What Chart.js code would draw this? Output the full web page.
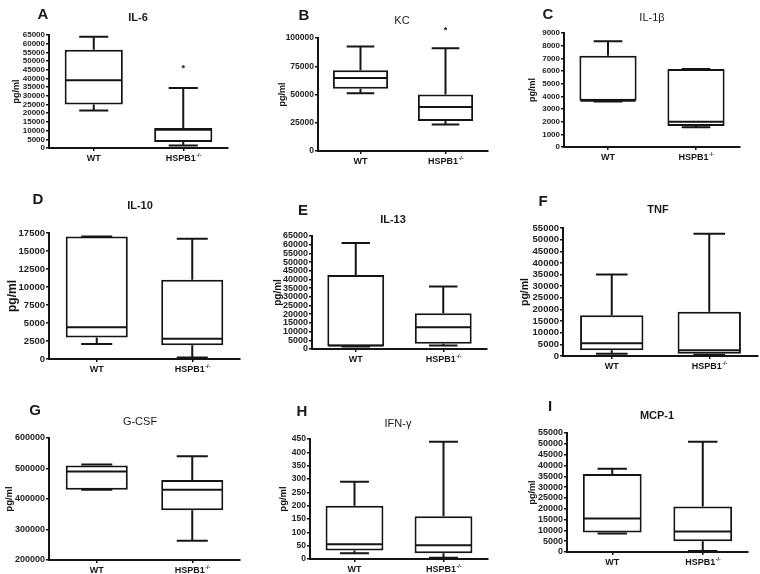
<!DOCTYPE html>
<html lang="en">
<head>
<meta charset="UTF-8">
<title>Cytokines WT vs HSPB1-/-</title>
<script src="https://cdn.jsdelivr.net/npm/chart.js@4.4.0/dist/chart.umd.min.js"></script>
<style>
  body { margin: 0; background: #fff; }
  #page { position: relative; width: 760px; height: 574px; overflow: hidden;
          font-family: "Liberation Sans", Arial, sans-serif; color: #1a1a1a; }
  .panel { position: absolute; }
  .lbl { position: absolute; transform: translate(-50%, -50%); white-space: nowrap; }
  .letter { font-weight: bold; font-size: 15px; }
</style>
</head>
<body>
<div id="page"></div>
<script>
// groups and panels
const groups = ['WT', 'HSPB1'];
const letters = ['A', 'B', 'C', 'D', 'E', 'F', 'G', 'H', 'I'];
const titles = ['IL-6', 'KC', 'IL-1β', 'IL-10', 'IL-13', 'TNF', 'G-CSF', 'IFN-γ', 'MCP-1'];

// y axis ranges
const yMin = [0, 0, 0, 0, 0, 0, 200000, 0, 0];
const yMax = [65000, 100000, 9000, 17500, 65000, 55000, 600000, 450, 55000];
const yStep = [5000, 25000, 1000, 2500, 5000, 5000, 100000, 50, 5000];

// box plot stats, each entry = [WT, HSPB1]
const minVals = [[21500, 1500], [51000, 23500], [3600, 1550], [2100, 200], [1500, 2000], [1000, 500], [430000, 263000], [22, 5], [8500, 500]];
const q1Vals  = [[25000, 3500], [55000, 26500], [3650, 1650], [3000, 1900], [1500, 3000], [2500, 1000], [430000, 363000], [32, 22], [9000, 5000]];
const medVals = [[39000, 10500], [64500, 39000], [3650, 2000], [4400, 2800], [2000, 12500], [5500, 2500], [490000, 430000], [55, 52], [15500, 9500]];
const q3Vals  = [[56500, 11500], [71500, 50000], [7200, 6150], [17000, 11000], [42500, 20500], [17500, 19000], [510000, 462000], [200, 160], [36000, 21000]];
const maxVals = [[64000, 34500], [92500, 91000], [8350, 6150], [17000, 16700], [61000, 36000], [35000, 52500], [513000, 540000], [290, 440], [38500, 51000]];
const starVals = [[null, 47000], [null, 108000], [null, null], [null, null], [null, null], [null, null], [null, null], [null, null], [null, null]];

// page layout: axis left, axis right, top, bottom (page px)
const frames = [
  [49, 228, 35, 148], [318, 488, 38, 151], [564, 740, 33, 147],
  [49, 240, 233, 359], [312, 487, 236, 349], [563, 758, 228, 356],
  [49, 240, 438, 560], [310, 488, 439, 559], [567, 748, 433, 552]
];
const letterPos = [[43, 13], [304, 14], [548, 13], [38, 198], [303, 209], [543, 200], [35, 409], [302, 410], [550, 405]];
const titlePos = [[138, 17], [402, 20], [652, 17], [140, 205], [393, 219], [658, 209], [140, 421], [398, 423], [657, 415]];
const titleBold = [true, false, false, true, true, true, false, false, true];
const tickFont = [8, 8.5, 8, 9.5, 9, 9.5, 9, 8.5, 9];
const unitFont = [9, 9, 9, 12, 10, 10.5, 9.5, 9.5, 9];
const unitOffset = [32, 35, 31, 36, 34, 38, 40, 27, 34];

const FONT = '"Liberation Sans", Arial, sans-serif';
const INK = '#151515';
const page = document.getElementById('page');

function addLabel(text, x, y, css) {
  const d = document.createElement('div');
  d.className = 'lbl';
  d.textContent = text;
  d.style.left = x + 'px';
  d.style.top = y + 'px';
  Object.assign(d.style, css);
  page.appendChild(d);
}

function makeBoxPlugin(k) {
  return {
    id: 'box' + k,
    afterDatasetsDraw(chart) {
      const ctx = chart.ctx;
      const ys = chart.scales.y;
      const area = chart.chartArea;
      const meta = chart.getDatasetMeta(0);
      ctx.save();
      ctx.strokeStyle = INK;
      ctx.fillStyle = INK;
      ctx.lineWidth = 2;
      meta.data.forEach((bar, i) => {
        const half = bar.width / 2;
        const cap = bar.width * 0.25;
        const pLo = ys.getPixelForValue(minVals[k][i]);
        const pQ1 = ys.getPixelForValue(q1Vals[k][i]);
        const pMed = ys.getPixelForValue(medVals[k][i]);
        const pQ3 = ys.getPixelForValue(q3Vals[k][i]);
        const pHi = ys.getPixelForValue(maxVals[k][i]);
        ctx.beginPath();
        ctx.moveTo(bar.x, pQ3); ctx.lineTo(bar.x, pHi);
        ctx.moveTo(bar.x - cap, pHi); ctx.lineTo(bar.x + cap, pHi);
        ctx.moveTo(bar.x, pQ1); ctx.lineTo(bar.x, pLo);
        ctx.moveTo(bar.x - cap, pLo); ctx.lineTo(bar.x + cap, pLo);
        ctx.moveTo(bar.x - half + 1, pMed); ctx.lineTo(bar.x + half - 1, pMed);
        ctx.stroke();
        const s = starVals[k][i];
        if (s !== null) {
          ctx.font = 'bold 9px ' + FONT;
          ctx.textAlign = 'center';
          ctx.textBaseline = 'middle';
          ctx.fillText('*', bar.x, ys.getPixelForValue(s) + 2);
        }
      });
      // x category labels, with superscript for the knockout
      const xs = chart.scales.x;
      const ly = area.bottom + 11;
      ctx.textBaseline = 'middle';
      ctx.font = 'bold 9px ' + FONT;
      ctx.textAlign = 'center';
      ctx.fillText(groups[0], xs.getPixelForValue(0), ly);
      const main = groups[1];
      const sup = '-/-';
      const w1 = ctx.measureText(main).width;
      ctx.font = 'bold 5.5px ' + FONT;
      const w2 = ctx.measureText(sup).width;
      const x0 = xs.getPixelForValue(1) - (w1 + w2) / 2;
      ctx.textAlign = 'left';
      ctx.font = 'bold 9px ' + FONT;
      ctx.fillText(main, x0, ly);
      ctx.font = 'bold 5.5px ' + FONT;
      ctx.fillText(sup, x0 + w1 + 0.5, ly - 4);
      // unit label
      ctx.translate(area.left - unitOffset[k], (area.top + area.bottom) / 2);
      ctx.rotate(-Math.PI / 2);
      ctx.textAlign = 'center';
      ctx.font = 'bold ' + unitFont[k] + 'px ' + FONT;
      ctx.fillText('pg/ml', 0, 0);
      ctx.restore();
    }
  };
}

frames.forEach((f, k) => {
  const [ax, right, top, bottom] = f;
  const padL = 50, padT = 40, padR = 6, xH = 20, padB = 2;
  const W = right - ax + padL + padR;
  const H = bottom - top + padT + xH + padB;
  const wrap = document.createElement('div');
  wrap.className = 'panel';
  wrap.style.left = (ax - padL) + 'px';
  wrap.style.top = (top - padT) + 'px';
  const cv = document.createElement('canvas');
  cv.width = W; cv.height = H;
  cv.style.width = W + 'px'; cv.style.height = H + 'px';
  wrap.appendChild(cv);
  page.appendChild(wrap);

  new Chart(cv.getContext('2d'), {
    type: 'bar',
    data: {
      labels: groups,
      datasets: [{
        data: groups.map((g, i) => [q1Vals[k][i], q3Vals[k][i]]),
        backgroundColor: '#ffffff',
        borderColor: INK,
        borderWidth: 2,
        borderSkipped: false,
        barPercentage: 0.65,
        categoryPercentage: 1
      }]
    },
    options: {
      responsive: false,
      animation: false,
      devicePixelRatio: 1,
      layout: { padding: { left: 0, top: padT, right: padR, bottom: padB } },
      plugins: { legend: { display: false }, tooltip: { enabled: false }, title: { display: false } },
      scales: {
        x: {
          offset: true,
          grid: { offset: false, drawOnChartArea: false, color: INK, tickLength: 3, lineWidth: 1.5 },
          border: { color: INK, width: 2 },
          ticks: { display: false },
          afterFit: s => { s.height = xH; }
        },
        y: {
          min: yMin[k],
          max: yMax[k],
          grid: { drawOnChartArea: false, color: INK, tickLength: 3, lineWidth: 1.5 },
          border: { color: INK, width: 2 },
          ticks: {
            stepSize: yStep[k],
            autoSkip: false,
            padding: 1,
            color: '#222',
            font: { family: FONT, size: tickFont[k], weight: 'bold' },
            callback: v => String(v)
          },
          afterFit: s => { s.width = padL; }
        }
      }
    },
    plugins: [makeBoxPlugin(k)]
  });

  addLabel(letters[k], letterPos[k][0], letterPos[k][1], { fontWeight: 'bold', fontSize: '15px' });
  addLabel(titles[k], titlePos[k][0], titlePos[k][1], {
    fontWeight: titleBold[k] ? 'bold' : 'normal', fontSize: '11px'
  });
});
</script>
</body>
</html>
